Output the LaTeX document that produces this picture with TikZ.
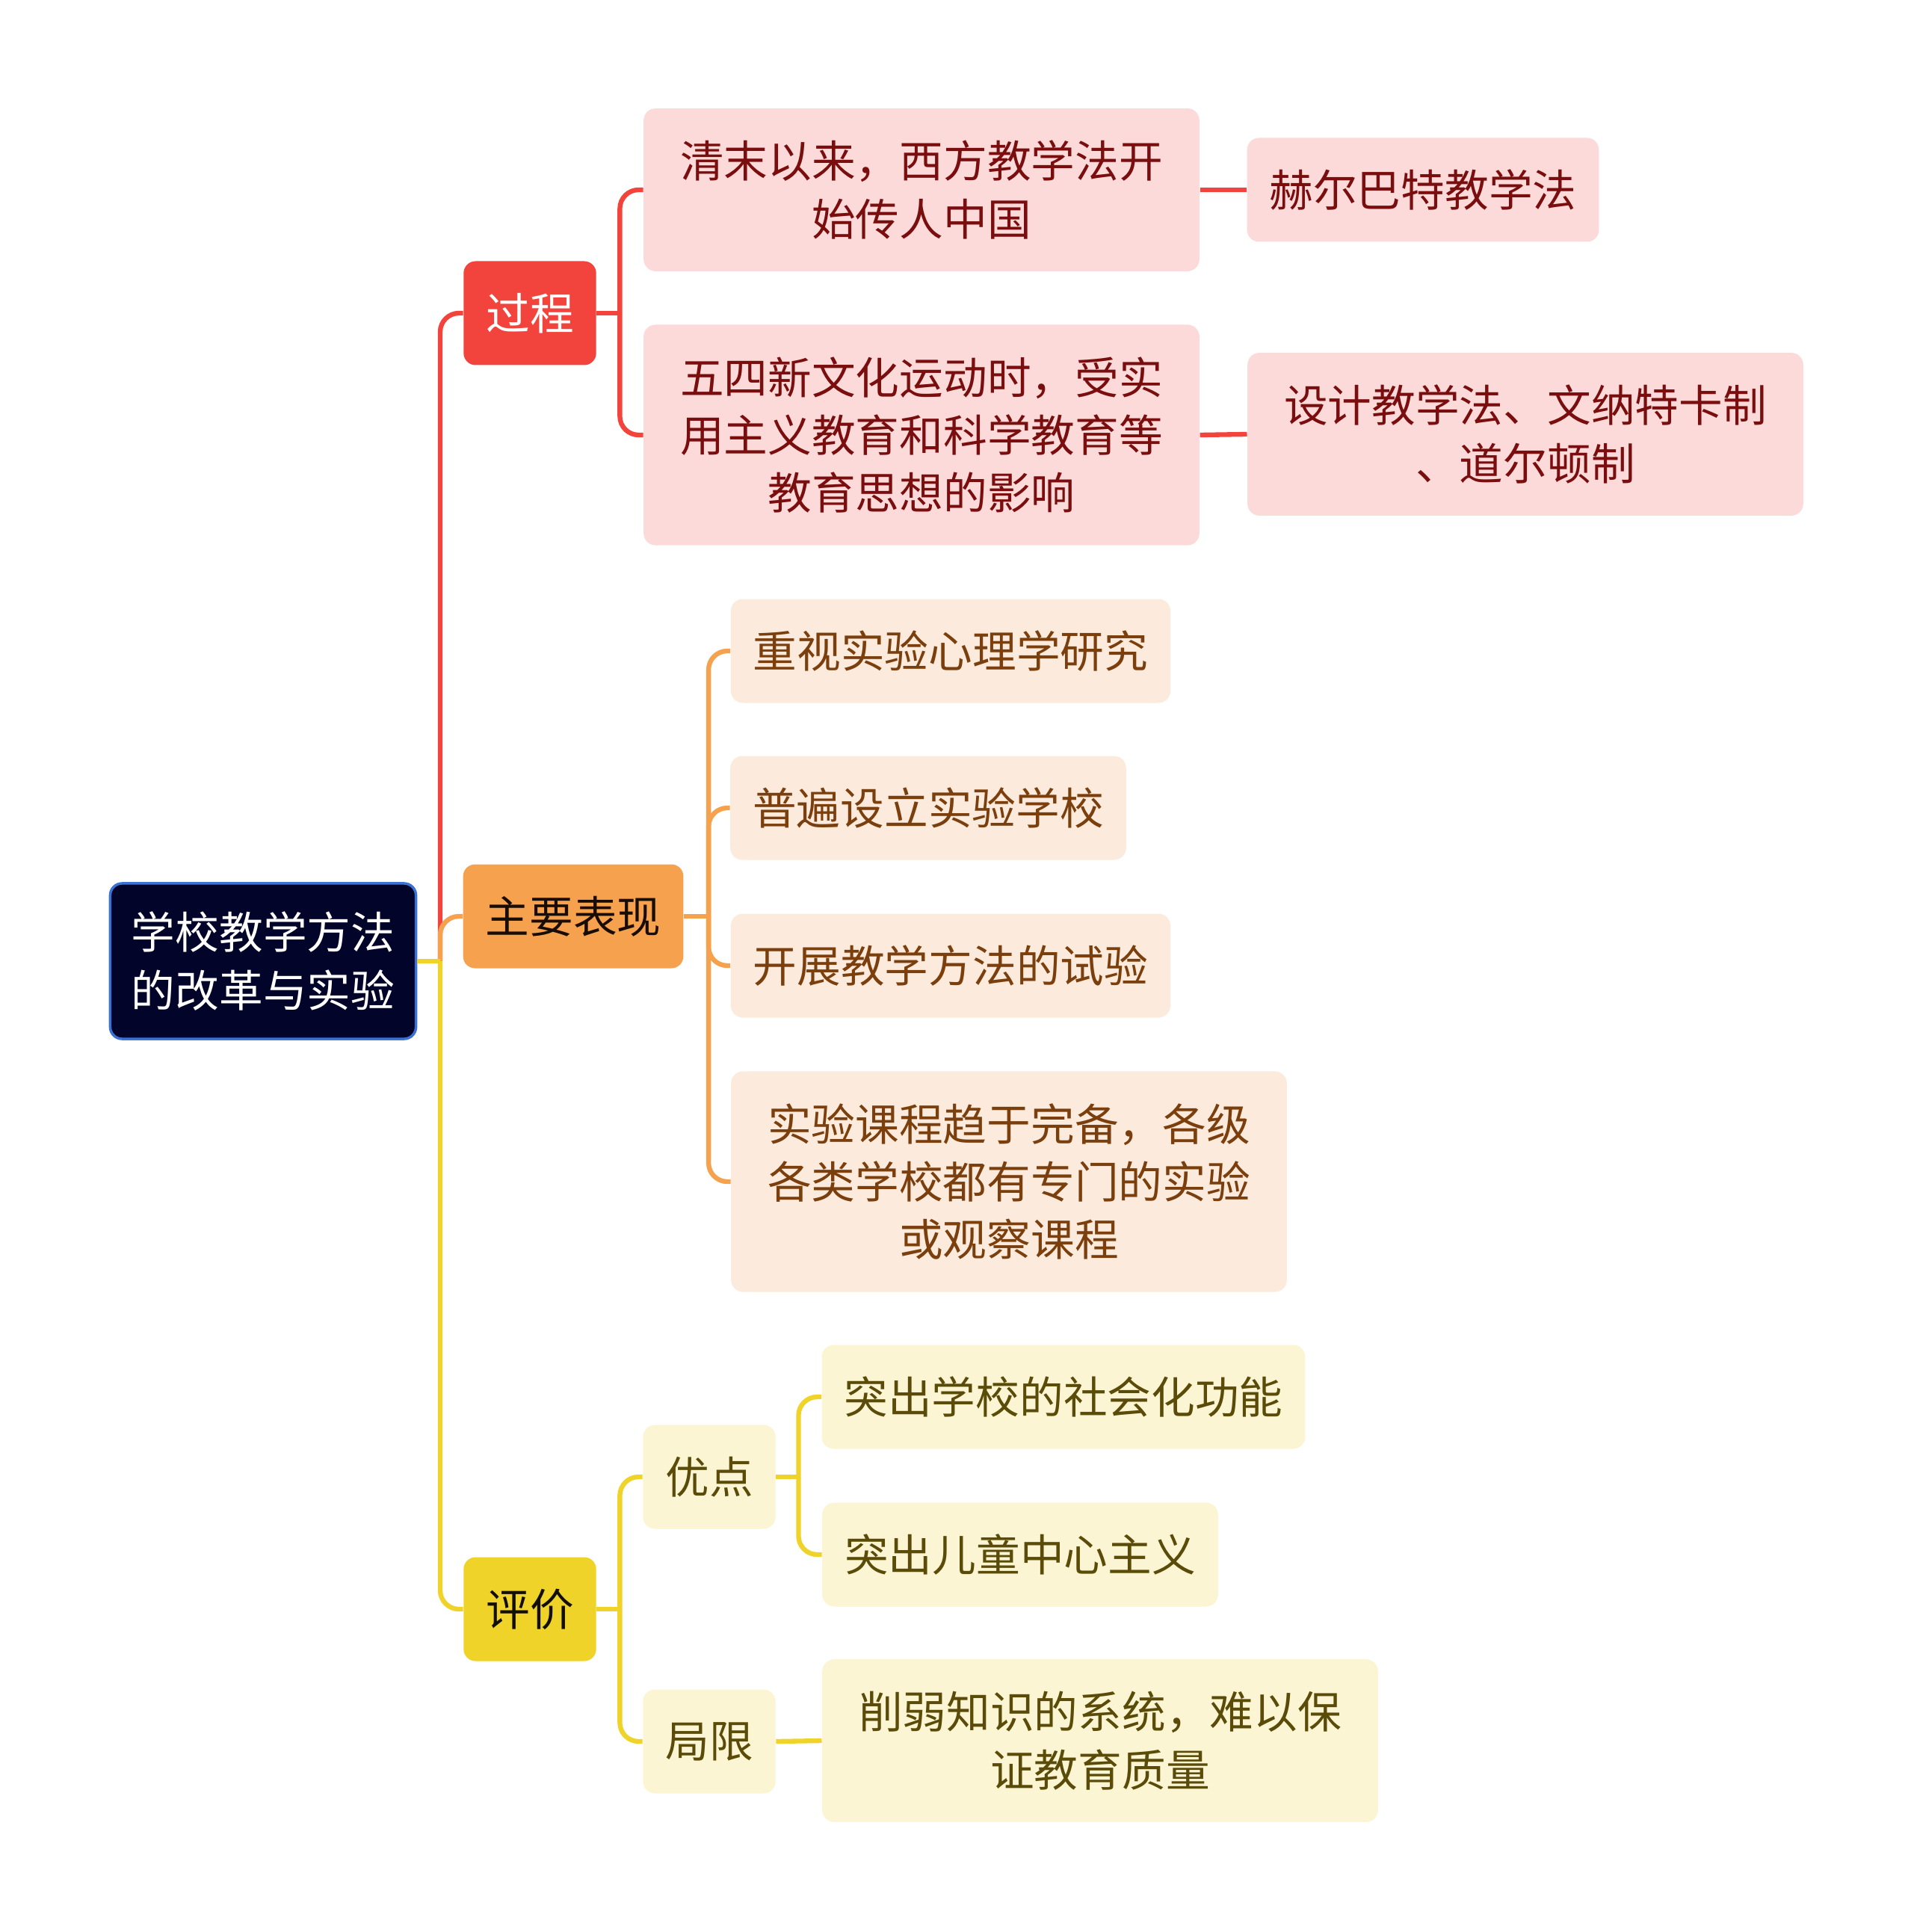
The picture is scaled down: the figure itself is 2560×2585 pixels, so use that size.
\documentclass[tikz,border=0pt]{standalone}
\usepackage{fontspec}
\setmainfont{Noto Sans CJK SC}
\usepackage{tikz}

\definecolor{rootfill}{HTML}{03042A}
\definecolor{rootdraw}{HTML}{3A72D6}
\definecolor{redmain}{HTML}{F2443C}
\definecolor{redsoft}{HTML}{FDDADA}
\definecolor{redtext}{HTML}{7A0E0E}
\definecolor{orangemain}{HTML}{F5A14E}
\definecolor{orangesoft}{HTML}{FCEBDC}
\definecolor{orangetext}{HTML}{7B3F0E}
\definecolor{yellowmain}{HTML}{EFD328}
\definecolor{yellowsoft}{HTML}{FBF5D3}
\definecolor{yellowtext}{HTML}{5A4B08}

\begin{document}
\begin{tikzpicture}[
  x=0.1mm, y=-0.1mm,
  every node/.style = {font=\fontsize{16.7pt}{22pt}\selectfont, align=center,
                       rounded corners=1.6mm, inner xsep=3mm, inner ysep=3.5mm,
                       minimum height=13.9mm},
  rootbox/.style = {fill=rootfill, draw=rootdraw, line width=0.35mm,
                    text=white, inner xsep=2.85mm, inner ysep=3.8mm},
  wide/.style = {inner xsep=4.9mm, inner ysep=4.3mm},
  redtop/.style = {fill=redmain, text=white},
  redbox/.style = {fill=redsoft, text=redtext},
  orangetop/.style = {fill=orangemain, text=black!80!orangetext},
  orangebox/.style = {fill=orangesoft, text=orangetext},
  yellowtop/.style = {fill=yellowmain, text=black!80!yellowtext},
  yellowbox/.style = {fill=yellowsoft, text=yellowtext},
  link/.style = {line width=1.8pt, rounded corners=2.5mm},
]
\useasboundingbox (0,0) rectangle (2560,2585);

% root and main branches
\node[rootbox] (root) at (352,1286) {学校教学方法\\的改革与实验};
\node[redtop] (gc) at (709,419) {过程};
\node[orangetop] (zy) at (767,1226) {主要表现};
\node[yellowtop] (pj) at (709,2153) {评价};
\coordinate (hub) at (589,1286);

% 过程
\node[redbox, wide] (gc1) at (1233,254) {清末以来，西方教学法开\\始传人中国};
\node[redbox, wide] (gc2) at (1233,582) {五四新文化运动时，受实\\用主义教育和科学教育等\\教育思想的影响};
\node[redbox] (gc1a) at (1904,254) {赫尔巴特教学法};
\node[redbox, wide] (gc2a) at (2041,581) {设计教学法、文纳特卡制\\、道尔顿制};

% 主要表现
\node[orangebox] (zy1) at (1272,871) {重视实验心理学研究};
\node[orangebox] (zy2) at (1242,1081) {普遍设立实验学校};
\node[orangebox] (zy3) at (1272,1292) {开展教学方法的试验};
\node[orangebox, wide] (zy4) at (1350,1581) {实验课程趋于完备，各级\\各类学校都有专门的实验\\或观察课程};

% 评价
\node[yellowbox] (yd) at (949,1976) {优点};
\node[yellowbox] (jx) at (949,2330) {局限};
\node[yellowbox] (yd1) at (1423,1869) {突出学校的社会化功能};
\node[yellowbox] (yd2) at (1365,2080) {突出儿童中心主义};
\node[yellowbox, wide] (jx1) at (1472,2329) {削弱知识的系统，难以保\\证教育质量};

% junctions
\coordinate (gcj) at ([xshift=3.1mm]gc.east);
\coordinate (zyj) at ([xshift=3.3mm]zy.east);
\coordinate (pjj) at ([xshift=3.1mm]pj.east);
\coordinate (ydj) at ([xshift=3.0mm]yd.east);

% connectors
\draw[link, redmain] (hub) |- (gc.west);
\draw[link, orangemain] (hub) |- (zy.west);
\draw[link, yellowmain] (hub) |- (pj.west);
\draw[link, yellowmain] (root.east) -- (hub);

\draw[link, redmain] (gc.east) -- (gcj);
\draw[link, redmain] (gcj) |- (gc1.west);
\draw[link, redmain] (gcj) |- (gc2.west);
\draw[link, redmain] (gc1.east) -- (gc1a.west);
\draw[link, redmain] (gc2.east) -- (gc2a.west);

\draw[link, orangemain] (zy.east) -- (zyj);
\foreach \n in {zy1,zy2,zy3,zy4}
  \draw[link, orangemain] (zyj) |- (\n.west);

\draw[link, yellowmain] (pj.east) -- (pjj);
\draw[link, yellowmain] (pjj) |- (yd.west);
\draw[link, yellowmain] (pjj) |- (jx.west);
\draw[link, yellowmain] (yd.east) -- (ydj);
\draw[link, yellowmain] (ydj) |- (yd1.west);
\draw[link, yellowmain] (ydj) |- (yd2.west);
\draw[link, yellowmain] (jx.east) -- (jx1.west);

\end{tikzpicture}
\end{document}
